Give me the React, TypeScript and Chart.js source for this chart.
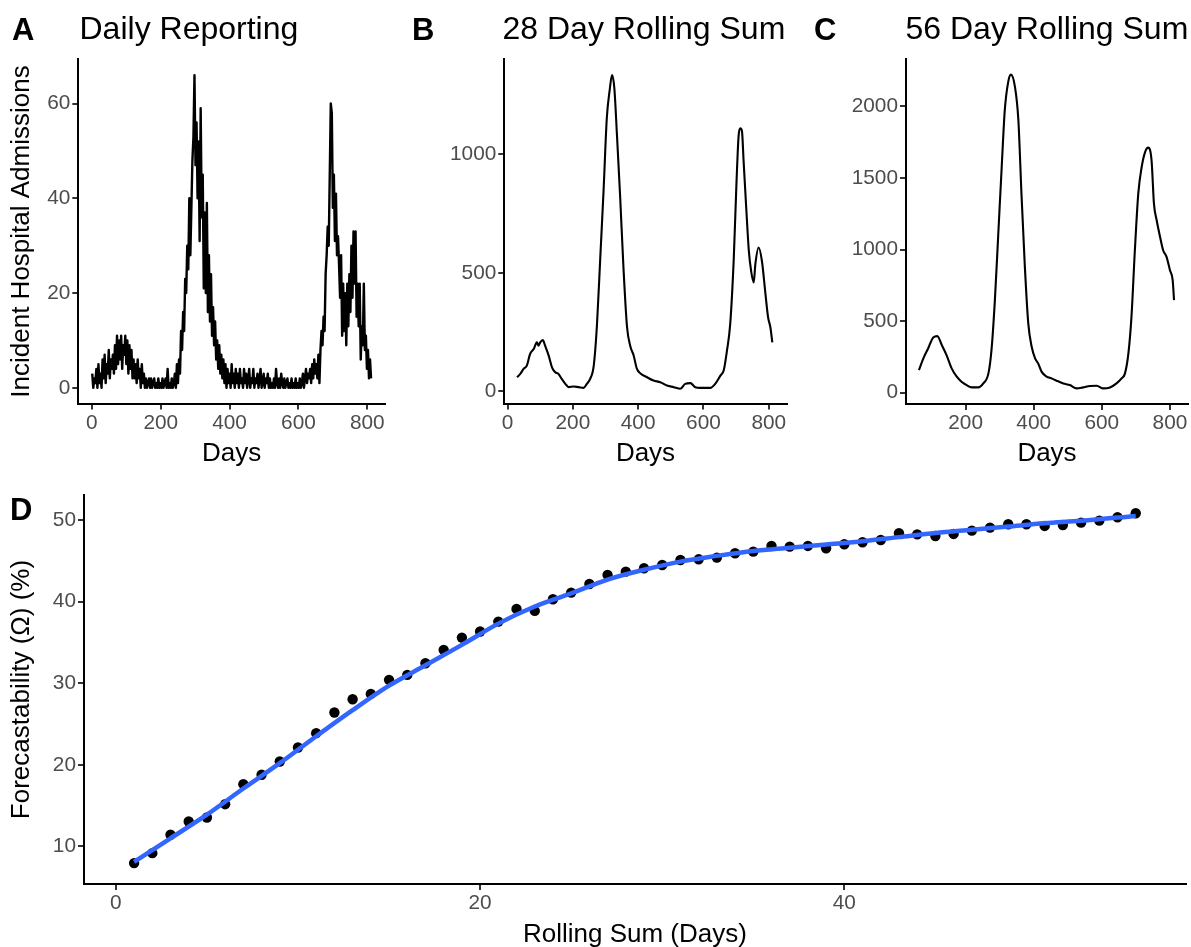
import React, { useEffect, useRef } from "react";
import { Chart, registerables } from "chart.js";

Chart.register(...registerables);

const FONT = "'Liberation Sans', Arial, Helvetica, sans-serif";

// ---------- Panel A: daily reporting (every 3rd day) ----------
const dailyStartDay = 1;
const dailyStep = 3;
const dailyValues = [
  3, 0, 2, 1, 4, 0, 5, 1, 3, 0, 6, 2, 7, 1, 5, 3, 8, 2, 6, 4,
  7, 3, 9, 4, 11, 5, 10, 6, 11, 4, 9, 7, 11, 5, 10, 3, 9, 4, 8, 2,
  6, 2, 5, 1, 6, 2, 4, 0, 5, 1, 3, 0, 2, 0, 1, 2, 0, 2, 0, 1,
  2, 0, 1, 0, 2, 0, 1, 0, 2, 0, 1, 2, 0, 4, 0, 1, 0, 2, 0, 1,
  3, 0, 5, 1, 6, 3, 12, 8, 16, 12, 23, 20, 30, 25, 40, 28, 38, 48, 53, 66,
  47, 56, 40, 52, 31, 59, 36, 45, 21, 37, 20, 39, 16, 28, 14, 24, 11, 17, 9, 14,
  6, 10, 4, 9, 3, 7, 2, 6, 1, 5, 0, 4, 1, 3, 0, 5, 1, 3, 0, 4,
  1, 3, 0, 4, 1, 2, 0, 4, 1, 3, 0, 2, 4, 0, 2, 1, 4, 0, 2, 1,
  3, 0, 2, 4, 0, 1, 3, 0, 2, 1, 3, 0, 2, 0, 1, 0, 2, 0, 4, 1,
  0, 2, 0, 3, 1, 0, 2, 0, 1, 2, 0, 1, 0, 2, 0, 1, 0, 2, 0, 1,
  0, 2, 0, 1, 3, 0, 2, 4, 1, 3, 2, 4, 1, 5, 2, 6, 3, 5, 2, 7,
  1, 8, 12, 9, 15, 12, 24, 28, 34, 30, 45, 60, 58, 38, 45, 31, 41, 28, 32, 26,
  19, 28, 11, 22, 12, 20, 9, 22, 13, 24, 16, 30, 19, 33, 22, 33, 15, 22, 13, 22,
  6, 13, 9, 22, 8, 11, 4, 8, 2, 6, 2,
];
const dailyDays = dailyValues.map((_, i) => dailyStartDay + i * dailyStep);
const dailyXTicks = [0, 200, 400, 600, 800];
const dailyYTicks = [0, 20, 40, 60];

// ---------- Panel B: 28 day rolling sum ----------
const sum28Days = [
  29, 39, 49, 59, 69, 80, 90, 95, 100, 108, 115, 126, 136, 146, 156, 166, 177, 187,
  202, 218, 233, 243, 253, 264, 274, 284, 294, 304, 313, 320, 327, 335, 345, 355,
  366, 376, 386, 396, 407, 427, 447, 468, 488, 509, 529, 544, 560, 575, 590, 621,
  636, 652, 662, 672, 682, 693, 701, 708, 713, 718, 723, 731, 739, 746, 754, 759,
  769, 779, 790, 798, 805, 811,
];
const sum28Values = [
  59, 73, 94, 108, 157, 178, 206, 192, 206, 216, 192, 150, 101, 80, 73, 52, 31, 17,
  20, 17, 14, 31, 52, 108, 284, 565, 845, 1154, 1274, 1335, 1281, 1084, 817, 522,
  270, 190, 152, 95, 75, 59, 45, 38, 24, 17, 10, 31, 34, 17, 14, 14,
  31, 66, 87, 171, 284, 565, 874, 1084, 1110, 1098, 972, 775, 593, 508, 459, 537,
  607, 551, 410, 312, 270, 206,
];
const sum28XTicks = [0, 200, 400, 600, 800];
const sum28YTicks = [0, 500, 1000];

// ---------- Panel C: 56 day rolling sum ----------
const sum56Days = [
  63, 76, 90, 105, 117, 130, 144, 159, 174, 188, 203, 218, 237, 252, 267, 276, 286,
  296, 306, 315, 325, 333, 345, 355, 364, 374, 384, 394, 404, 413, 423, 438, 452,
  467, 487, 506, 526, 545, 565, 585, 604, 624, 643, 658, 668, 678, 687, 697, 707,
  717, 727, 736, 746, 753, 761, 771, 780, 790, 800, 808, 812,
];
const sum56Values = [
  158, 240, 309, 386, 395, 333, 263, 170, 112, 77, 53, 37, 37, 65, 135, 298, 647,
  1112, 1577, 1972, 2170, 2222, 2135, 1902, 1391, 879, 484, 321, 240, 205, 147, 112, 100,
  84, 65, 53, 30, 37, 47, 49, 30, 37, 65, 100, 135, 274, 530, 995, 1391,
  1577, 1681, 1712, 1623, 1321, 1205, 1088, 995, 949, 856, 786, 647,
];
const sum56XTicks = [200, 400, 600, 800];
const sum56YTicks = [0, 500, 1000, 1500, 2000];

// ---------- Panel D: forecastability vs rolling window ----------
const windowDays = [
  1, 2, 3, 4, 5, 6, 7, 8, 9, 10, 11, 12, 13, 14, 15, 16, 17, 18, 19, 20,
  21, 22, 23, 24, 25, 26, 27, 28, 29, 30, 31, 32, 33, 34, 35, 36, 37, 38, 39, 40,
  41, 42, 43, 44, 45, 46, 47, 48, 49, 50, 51, 52, 53, 54, 55, 56,
];
const forecastability = [
  7.96, 9.18, 11.43, 13.06, 13.55, 15.18, 17.63, 18.78, 20.41, 22.12,
  23.88, 26.41, 28.04, 28.69, 30.41, 31.02, 32.45, 34.08, 35.59, 36.33,
  37.55, 39.1, 38.86, 40.29, 41.1, 42.16, 43.27, 43.67, 44.08, 44.49,
  45.1, 45.18, 45.39, 45.92, 46.12, 46.82, 46.73, 46.82, 46.53, 47.02,
  47.27, 47.55, 48.37, 48.24, 48.04, 48.29, 48.69, 49.06, 49.47, 49.47,
  49.27, 49.39, 49.67, 49.92, 50.33, 50.82,
];
const smoothX = [1, 3, 5, 7, 9, 11, 13, 15, 17, 19, 21, 23, 25, 27, 29, 31, 33, 35, 37, 39, 41, 43, 45, 47, 49, 51, 53, 56];
const smoothY = [
  8.1, 11.0, 13.9, 17.1, 20.2, 23.5, 26.7, 29.7, 32.2, 34.7, 37.3, 39.4, 41.0, 42.7,
  43.9, 44.9, 45.6, 46.2, 46.6, 47.0, 47.4, 47.9, 48.4, 48.8, 49.2, 49.6, 49.9, 50.5,
];
const windowXTicks = [0, 20, 40];
const forecastYTicks = [10, 20, 30, 40, 50];

// ---------- helpers ----------
const TICK_FONT = { family: FONT, size: 20.8 };
const TITLE_FONT = { family: FONT, size: 26 };

function xAxis(min: number, max: number, ticks: number[], title: string, height: number, titlePad: number) {
  return {
    type: "linear" as const,
    min,
    max,
    afterBuildTicks: (s: any) => {
      s.ticks = ticks.map((v) => ({ value: v }));
    },
    afterFit: (s: any) => {
      s.height = height;
    },
    grid: { drawOnChartArea: false, drawTicks: true, tickLength: 6, color: "#333333", lineWidth: 2 },
    border: { display: true, color: "#000000", width: 2 },
    ticks: {
      color: "#4D4D4D",
      font: TICK_FONT,
      padding: 1,
      maxRotation: 0,
      autoSkip: false,
      callback: (v: any) => String(v),
    },
    title: {
      display: true,
      text: title,
      color: "#000000",
      font: TITLE_FONT,
      padding: { top: 0, bottom: titlePad },
    },
  };
}

function yAxis(min: number, max: number, ticks: number[], title: string | null, width: number, titlePad: number) {
  return {
    type: "linear" as const,
    min,
    max,
    afterBuildTicks: (s: any) => {
      s.ticks = ticks.map((v) => ({ value: v }));
    },
    afterFit: (s: any) => {
      s.width = width;
    },
    grid: { drawOnChartArea: false, drawTicks: true, tickLength: 6, color: "#333333", lineWidth: 2 },
    border: { display: true, color: "#000000", width: 2 },
    ticks: {
      color: "#4D4D4D",
      font: TICK_FONT,
      padding: 2,
      autoSkip: false,
      callback: (v: any) => String(v),
    },
    title: title
      ? { display: true, text: title, color: "#000000", font: TITLE_FONT, padding: { top: titlePad, bottom: 0 } }
      : { display: false },
  };
}

function baseOptions(padding: any, x: any, y: any) {
  return {
    animation: false as const,
    responsive: false,
    maintainAspectRatio: false,
    events: [] as any[],
    layout: { padding },
    plugins: { legend: { display: false }, tooltip: { enabled: false }, title: { display: false } },
    scales: { x, y },
  };
}

function toXY(xs: number[], ys: number[]) {
  return xs.map((x, i) => ({ x, y: ys[i] }));
}

function lineDataset(xs: number[], ys: number[], width: number, smooth: boolean) {
  return {
    data: toXY(xs, ys),
    borderColor: "#000000",
    borderWidth: width,
    pointRadius: 0,
    tension: 0,
    cubicInterpolationMode: smooth ? ("monotone" as const) : ("default" as const),
    fill: false,
    borderJoinStyle: "round" as const,
  };
}

function ChartCanvas({ left, top, width, height, make }: any) {
  const ref = useRef<HTMLCanvasElement | null>(null);
  useEffect(() => {
    if (!ref.current) return;
    const chart = new Chart(ref.current, make());
    return () => chart.destroy();
  }, []);
  return (
    <canvas
      ref={ref}
      width={width}
      height={height}
      style={{ position: "absolute", left, top, width, height }}
    />
  );
}

function Label({ left, top, size, bold, children }: any) {
  return (
    <div
      style={{
        position: "absolute",
        left,
        top,
        fontSize: size,
        lineHeight: 1,
        fontWeight: bold ? "bold" : "normal",
        color: "#000000",
        whiteSpace: "nowrap",
        fontFamily: FONT,
      }}
    >
      {children}
    </div>
  );
}

export default function App() {
  const makeA = () => ({
    type: "line" as const,
    data: { datasets: [lineDataset(dailyDays, dailyValues, 2.4, false)] },
    options: baseOptions(
      { top: 13.5, right: 10, bottom: 0, left: 0 },
      xAxis(-39.5, 851.5, dailyXTicks, "Days", 76.5, 11),
      yAxis(-3.3, 69.3, dailyYTicks, "Incident Hospital Admissions", 78.3, 6)
    ),
  });
  const makeB = () => ({
    type: "line" as const,
    data: { datasets: [lineDataset(sum28Days, sum28Values, 2.1, true)] },
    options: baseOptions(
      { top: 13.5, right: 8.3, bottom: 0, left: 0 },
      xAxis(-10, 855, sum28XTicks, "Days", 76.5, 11),
      yAxis(-52, 1401, sum28YTicks, null, 104.3, 0)
    ),
  });
  const makeC = () => ({
    type: "line" as const,
    data: { datasets: [lineDataset(sum56Days, sum56Values, 2.1, true)] },
    options: baseOptions(
      { top: 14, right: 3, bottom: 0, left: 0 },
      xAxis(25, 853, sum56XTicks, "Days", 76, 11),
      yAxis(-79, 2328, sum56YTicks, null, 106, 0)
    ),
  });
  const makeD = () => ({
    type: "line" as const,
    data: {
      datasets: [
        {
          data: toXY(smoothX, smoothY),
          borderColor: "#3366FF",
          borderWidth: 4.5,
          pointRadius: 0,
          cubicInterpolationMode: "monotone" as const,
          fill: false,
          order: 0,
        },
        {
          data: toXY(windowDays, forecastability),
          showLine: false,
          pointRadius: 5.2,
          pointBackgroundColor: "#000000",
          pointBorderWidth: 0,
          borderColor: "#000000",
          order: 1,
        },
      ],
    },
    options: baseOptions(
      { top: 15, right: 3, bottom: 0, left: 0 },
      xAxis(-1.75, 58.75, windowXTicks, "Rolling Sum (Days)", 63, -3),
      yAxis(5.4, 53.06, forecastYTicks, "Forecastability (\u03A9) (%)", 84, 6.4)
    ),
  });

  return (
    <div
      style={{
        position: "absolute",
        left: 0,
        top: 0,
        width: 1191,
        height: 947,
        background: "#ffffff",
        overflow: "hidden",
      }}
    >
      <ChartCanvas left={0} top={45} width={395} height={435} make={makeA} />
      <ChartCanvas left={400} top={45} width={395} height={435} make={makeB} />
      <ChartCanvas left={800} top={45} width={391} height={435} make={makeC} />
      <ChartCanvas left={0} top={480} width={1191} height={467} make={makeD} />

      <Label left={12} top={13.8} size={31} bold>A</Label>
      <Label left={79.5} top={12.2} size={32}>Daily Reporting</Label>
      <Label left={412} top={13.8} size={31} bold>B</Label>
      <Label left={502.5} top={12.2} size={32}>28 Day Rolling Sum</Label>
      <Label left={814} top={13.8} size={31} bold>C</Label>
      <Label left={905.5} top={12.2} size={32}>56 Day Rolling Sum</Label>
      <Label left={10} top={493.8} size={31} bold>D</Label>
    </div>
  );
}
